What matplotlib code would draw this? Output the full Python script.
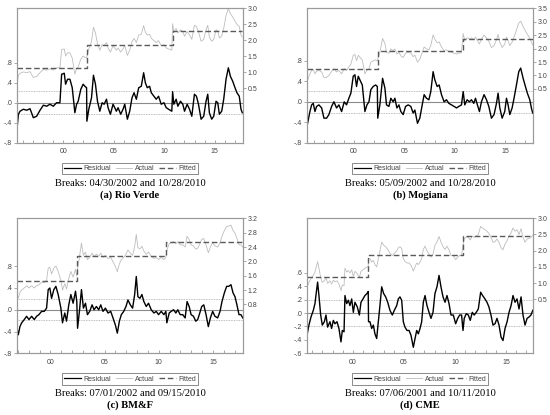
import numpy as np
import matplotlib
matplotlib.use("Agg")
import matplotlib.pyplot as plt
from matplotlib.ticker import FixedLocator, FuncFormatter, MultipleLocator

plt.rcParams["font.family"] = ["Liberation Sans", "DejaVu Sans"]

# Residual / Actual / Fitted plots for four markets

# (a) Rio Verde
rio_years = [1995.43, 1995.56, 1995.72, 1996.05, 1996.38, 1996.71, 1997.04, 1997.37, 1997.70, 1998.03,
             1998.36, 1998.68, 1999.01, 1999.34, 1999.67, 1999.84, 2000.10, 2000.23, 2000.43, 2000.66,
             2000.89, 2001.15, 2001.32, 2001.48, 2001.74, 2001.97, 2002.14, 2002.31, 2002.34, 2002.53,
             2002.80, 2002.99, 2003.19, 2003.39, 2003.62, 2003.85, 2004.05, 2004.28, 2004.44, 2004.67,
             2004.93, 2005.10, 2005.26, 2005.43, 2005.69, 2005.92, 2006.09, 2006.35, 2006.58, 2006.81,
             2007.01, 2007.24, 2007.47, 2007.73, 2007.96, 2008.13, 2008.32, 2008.55, 2008.72, 2008.98,
             2009.21, 2009.44, 2009.70, 2009.97, 2010.20, 2010.43, 2010.75, 2010.83, 2010.95, 2011.18,
             2011.35, 2011.61, 2011.84, 2012.01, 2012.27, 2012.50, 2012.73, 2012.99, 2013.19, 2013.39,
             2013.65, 2013.91, 2014.14, 2014.31, 2014.47, 2014.70, 2014.90, 2015.13, 2015.30, 2015.46,
             2015.69, 2015.89, 2016.12, 2016.35, 2016.55, 2016.78, 2017.01, 2017.20, 2017.43, 2017.60,
             2017.73]
rio_resid = [-0.50, -0.23, -0.17, -0.13, -0.15, -0.12, -0.30, -0.27, -0.15, -0.05,
             -0.07, -0.03, -0.07, 0.00, 0.00, 0.57, 0.59, 0.37, 0.47, 0.47,
             0.30, -0.20, -0.03, 0.03, 0.27, 0.37, 0.33, 0.30, -0.37, -0.13,
             0.10, 0.55, 0.37, 0.03, -0.17, 0.00, -0.03, 0.07, -0.10, -0.23,
             -0.03, -0.10, -0.17, -0.10, -0.23, -0.13, -0.03, -0.33, -0.17, 0.10,
             0.20, 0.07, 0.30, 0.33, 0.60, 0.40, 0.30, 0.33, 0.20, 0.13,
             0.07, 0.13, -0.03, 0.00, -0.10, -0.13, -0.17, 0.22, -0.03, 0.07,
             -0.07, 0.03, -0.03, -0.17, -0.03, -0.13, -0.27, 0.17, 0.13, -0.03,
             -0.33, -0.27, 0.03, 0.17, -0.20, -0.33, -0.27, 0.03, 0.00, -0.23,
             -0.17, 0.07, 0.47, 0.70, 0.53, 0.43, 0.30, 0.20, 0.13, -0.13,
             -0.20]
rio_levels = [1.14, 1.86, 2.30]
rio_breaks = [2002.33, 2010.82]
rio_band = 0.23

# (b) Mogiana
mog_years = [1995.35, 1995.48, 1995.64, 1995.81, 1995.97, 1996.14, 1996.30, 1996.53, 1996.80, 1997.03,
             1997.29, 1997.52, 1997.79, 1998.02, 1998.28, 1998.51, 1998.78, 1999.04, 1999.27, 1999.50,
             1999.70, 1999.93, 2000.10, 2000.26, 2000.43, 2000.66, 2000.83, 2001.09, 2001.29, 2001.49,
             2001.68, 2001.91, 2002.15, 2002.32, 2002.36, 2002.57, 2002.84, 2003.07, 2003.23, 2003.47,
             2003.66, 2003.89, 2004.06, 2004.26, 2004.46, 2004.65, 2004.88, 2005.12, 2005.38, 2005.64,
             2005.87, 2006.04, 2006.30, 2006.53, 2006.77, 2006.96, 2007.19, 2007.43, 2007.62, 2007.85,
             2008.02, 2008.25, 2008.45, 2008.68, 2008.94, 2009.17, 2009.41, 2009.67, 2009.93, 2010.17,
             2010.40, 2010.66, 2010.83, 2010.99, 2011.22, 2011.45, 2011.65, 2011.88, 2012.05, 2012.24,
             2012.44, 2012.64, 2012.90, 2013.14, 2013.37, 2013.63, 2013.89, 2014.13, 2014.29, 2014.46,
             2014.69, 2014.95, 2015.12, 2015.28, 2015.45, 2015.68, 2015.87, 2016.11, 2016.34, 2016.53,
             2016.77, 2017.00, 2017.19, 2017.43, 2017.59, 2017.72]
mog_resid = [-0.48, -0.35, -0.19, -0.06, -0.03, -0.19, -0.09, -0.06, -0.12, -0.32,
             -0.32, -0.25, -0.09, 0.00, -0.12, -0.06, -0.19, 0.00, -0.06, 0.07,
             0.17, 0.50, 0.53, 0.30, 0.50, 0.40, 0.33, -0.19, -0.06, 0.00,
             0.24, 0.30, 0.33, 0.30, -0.32, -0.06, 0.46, 0.27, -0.06, -0.09,
             0.07, 0.00, 0.07, -0.12, -0.06, -0.19, -0.25, -0.09, -0.06, -0.09,
             -0.22, -0.16, -0.42, -0.32, -0.06, 0.14, 0.07, 0.04, 0.20, 0.59,
             0.43, 0.30, 0.33, 0.14, 0.00, 0.04, -0.03, -0.06, -0.09, -0.12,
             -0.09, -0.06, 0.20, -0.06, 0.04, 0.00, 0.04, -0.03, 0.07, -0.06,
             -0.19, 0.00, 0.14, 0.04, -0.09, -0.32, -0.25, -0.03, 0.17, -0.12,
             -0.32, -0.19, 0.07, -0.06, -0.25, -0.12, 0.07, 0.33, 0.59, 0.66,
             0.46, 0.30, 0.17, 0.04, -0.12, -0.22]
mog_levels = [1.25, 1.92, 2.36]
mog_breaks = [2002.35, 2010.82]
mog_band = 0.22

# (c) BM&F
bmf_years = [1996.95, 1997.04, 1997.19, 1997.35, 1997.59, 1997.81, 1998.02, 1998.27, 1998.51, 1998.73,
             1998.94, 1999.19, 1999.43, 1999.65, 1999.80, 1999.95, 2000.11, 2000.32, 2000.51, 2000.72,
             2000.97, 2001.12, 2001.33, 2001.49, 2001.70, 2001.89, 2002.10, 2002.32, 2002.44, 2002.51,
             2002.68, 2002.87, 2003.05, 2003.24, 2003.42, 2003.63, 2003.85, 2004.03, 2004.25, 2004.46,
             2004.65, 2004.86, 2005.08, 2005.32, 2005.57, 2005.78, 2006.00, 2006.18, 2006.37, 2006.55,
             2006.77, 2006.98, 2007.16, 2007.38, 2007.59, 2007.78, 2007.93, 2008.08, 2008.27, 2008.45,
             2008.63, 2008.85, 2009.06, 2009.31, 2009.56, 2009.77, 2009.99, 2010.23, 2010.48, 2010.66,
             2010.75, 2010.97, 2011.15, 2011.37, 2011.58, 2011.76, 2011.98, 2012.22, 2012.44, 2012.62,
             2012.81, 2012.99, 2013.21, 2013.42, 2013.60, 2013.79, 2013.97, 2014.16, 2014.37, 2014.58,
             2014.77, 2014.98, 2015.19, 2015.44, 2015.66, 2015.84, 2016.06, 2016.27, 2016.46, 2016.67,
             2016.86, 2017.04, 2017.22, 2017.41, 2017.59, 2017.76]
bmf_resid = [-0.37, -0.46, -0.31, -0.24, -0.18, -0.12, -0.18, -0.12, -0.18, -0.12,
             -0.09, -0.03, -0.03, 0.03, 0.37, 0.40, 0.21, 0.37, 0.43, 0.28,
             0.03, -0.24, -0.06, -0.21, 0.09, 0.28, 0.12, 0.34, 0.15, -0.34,
             -0.03, 0.37, 0.03, 0.12, -0.09, -0.03, 0.09, 0.00, 0.06, 0.00,
             0.09, -0.03, 0.03, -0.06, -0.03, -0.15, -0.28, -0.43, -0.21, -0.09,
             -0.03, 0.06, 0.18, 0.09, 0.03, 0.28, 0.61, 0.24, 0.21, 0.28,
             0.15, 0.06, 0.12, 0.00, -0.06, -0.03, -0.09, -0.03, -0.09, -0.03,
             -0.24, -0.06, -0.03, 0.00, -0.06, 0.00, -0.09, -0.09, -0.15, 0.15,
             0.06, -0.09, -0.12, -0.21, -0.18, -0.06, 0.06, 0.09, -0.09, -0.31,
             -0.15, -0.03, -0.12, -0.15, -0.03, 0.15, 0.31, 0.43, 0.43, 0.46,
             0.31, 0.24, 0.09, -0.09, -0.09, -0.15]
bmf_levels = [1.44, 2.14, 2.55]
bmf_breaks = [2002.50, 2010.70]
bmf_band = 0.19

# (d) CME
cme_years = [1995.50, 1995.69, 1995.89, 1996.12, 1996.28, 1996.44, 1996.54, 1996.67, 1996.84, 1997.00,
             1997.20, 1997.36, 1997.52, 1997.75, 1997.91, 1998.08, 1998.24, 1998.44, 1998.63, 1998.83,
             1998.96, 1999.13, 1999.22, 1999.39, 1999.55, 1999.71, 1999.88, 2000.04, 2000.20, 2000.43,
             2000.63, 2000.79, 2000.99, 2001.18, 2001.38, 2001.50, 2001.53, 2001.67, 2001.84, 2002.00,
             2002.16, 2002.33, 2002.49, 2002.65, 2002.82, 2003.01, 2003.21, 2003.41, 2003.63, 2003.86,
             2004.06, 2004.29, 2004.45, 2004.61, 2004.78, 2004.94, 2005.10, 2005.30, 2005.50, 2005.69,
             2005.92, 2006.09, 2006.25, 2006.41, 2006.58, 2006.74, 2006.90, 2007.07, 2007.26, 2007.46,
             2007.65, 2007.85, 2008.04, 2008.24, 2008.44, 2008.63, 2008.83, 2009.03, 2009.22, 2009.42,
             2009.61, 2009.84, 2010.07, 2010.27, 2010.46, 2010.65, 2010.79, 2010.91, 2011.11, 2011.31,
             2011.50, 2011.70, 2011.89, 2012.09, 2012.29, 2012.52, 2012.71, 2012.94, 2013.14, 2013.33,
             2013.53, 2013.73, 2013.93, 2014.12, 2014.32, 2014.52, 2014.71, 2014.91, 2015.11, 2015.30,
             2015.50, 2015.69, 2015.89, 2016.08, 2016.28, 2016.48, 2016.67, 2016.87, 2017.07, 2017.26,
             2017.45, 2017.63]
cme_resid = [-0.33, -0.18, -0.06, 0.04, 0.14, 0.34, 0.46, 0.26, -0.03, -0.18,
             -0.13, -0.03, -0.21, -0.13, -0.23, -0.11, -0.16, -0.13, -0.23, -0.43,
             -0.26, -0.28, 0.26, 0.14, 0.19, 0.11, 0.21, 0.01, 0.16, 0.09,
             -0.03, 0.16, 0.21, 0.26, 0.29, 0.32, -0.13, -0.13, -0.23, -0.18,
             -0.31, -0.38, -0.13, 0.11, 0.39, 0.29, 0.24, 0.16, 0.04, -0.03,
             0.04, 0.11, 0.21, 0.24, 0.19, -0.13, -0.21, -0.26, -0.26, -0.33,
             -0.51, -0.38, -0.26, -0.31, -0.23, -0.13, 0.16, 0.26, 0.11, 0.01,
             -0.08, 0.01, 0.29, 0.39, 0.56, 0.39, 0.24, 0.16, 0.26, 0.14,
             -0.03, -0.03, -0.16, -0.08, -0.03, -0.03, -0.26, -0.08, -0.01, -0.03,
             -0.11, 0.01, -0.03, 0.01, 0.06, 0.31, 0.26, 0.21, 0.16, 0.09,
             -0.03, -0.18, -0.16, -0.08, -0.18, -0.36, -0.41, -0.23, -0.13, 0.01,
             0.11, 0.26, 0.16, 0.21, 0.06, 0.24, -0.03, -0.18, -0.08, -0.06,
             -0.03, 0.04]
cme_levels = [1.20, 1.88, 2.44]
cme_breaks = [2001.51, 2010.78]
cme_band = 0.20

captions = ["Breaks: 04/30/2002 and 10/28/2010", "Breaks: 05/09/2002 and 10/28/2010",
            "Breaks: 07/01/2002 and 09/15/2010", "Breaks: 07/06/2001 and 10/11/2010"]
titles = ["(a) Rio Verde", "(b) Mogiana", "(c) BM&F", "(d) CME"]

panels = [
    (rio_years, rio_resid, rio_levels, rio_breaks, rio_band),
    (mog_years, mog_resid, mog_levels, mog_breaks, mog_band),
    (bmf_years, bmf_resid, bmf_levels, bmf_breaks, bmf_band),
    (cme_years, cme_resid, cme_levels, cme_breaks, cme_band),
]

# layout (pixels in a 550x415 figure): left, top, right, bottom of each plot box
W, H = 550.0, 415.0
boxes = [(17, 8.3, 243, 142.7), (307, 8.3, 533, 142.7),
         (17, 218.3, 243, 353.3), (307, 218.3, 533, 353.3)]
xlims = [(1995.42, 2017.80), (1995.35, 2017.75), (1996.92, 2017.78), (1995.50, 2017.65)]
left_lims = [(-0.8, 1.89), (-0.8, 1.83), (-0.8, 1.68), (-0.6, 1.41)]
right_lims = [(-1.2, 3.0), (-1.5, 3.5), (-0.56, 3.2), (-1.17, 3.0)]
left_ticks = [[-0.8, -0.4, 0, 0.4, 0.8]] * 3 + [[-0.6, -0.4, -0.2, 0, 0.2, 0.4, 0.6]]
right_ticks = [[0.5, 1.0, 1.5, 2.0, 2.5, 3.0], [0.5, 1.0, 1.5, 2.0, 2.5, 3.0, 3.5],
               [0.8, 1.2, 1.6, 2.0, 2.4, 2.8, 3.2], [0.5, 1.0, 1.5, 2.0, 2.5, 3.0]]
legend_y = [168.5, 168.5, 379, 379]
caption_y = [(183, 195), (183, 195), (393.5, 405), (393.5, 405)]

frame_col = "#9a9a9a"
tick_col = "#444444"
tfs = 5.0


def eviews_fmt(v, pos):
    s = "%.1f" % v
    return s.replace("0.", ".", 1)


fig = plt.figure(figsize=(5.5, 4.15), dpi=100)

for i, (years, resid, levels, breaks, band) in enumerate(panels):
    l, t, r, b = boxes[i]
    ax = fig.add_axes([l / W, 1 - b / H, (r - l) / W, (b - t) / H])
    ax2 = ax.twinx()

    years = np.array(years)
    resid = np.array(resid)
    fit_at = np.select([years < breaks[0], years < breaks[1]], [levels[0], levels[1]], levels[2])
    actual = fit_at + resid

    # right axis: actual and fitted
    ax2.plot(years, actual, color="#bdbdbd", lw=0.6)
    ax2.plot([years[0], breaks[0], breaks[1], years[-1]], levels + [levels[-1]],
             drawstyle="steps-post", color="#5a5a5a", lw=1.0, dashes=(4, 2))

    # left axis: residual with reference lines
    ax.axhline(0, color="#8a8a8a", lw=0.8)
    ax.axhline(band, color="#a8a8a8", lw=0.6, ls=(0, (1, 1)))
    ax.axhline(-band, color="#a8a8a8", lw=0.6, ls=(0, (1, 1)))
    ax.plot(years, resid, color="black", lw=1.0)

    ax.set_xlim(*xlims[i])
    ax.set_ylim(*left_lims[i])
    ax2.set_ylim(*right_lims[i])

    ax.yaxis.set_major_locator(FixedLocator(left_ticks[i]))
    ax.yaxis.set_major_formatter(FuncFormatter(eviews_fmt))
    ax2.yaxis.set_major_locator(FixedLocator(right_ticks[i]))
    ax2.yaxis.set_major_formatter(FuncFormatter(lambda v, p: "%.1f" % v))

    ax.xaxis.set_major_locator(FixedLocator([2000, 2005, 2010, 2015]))
    ax.xaxis.set_major_formatter(FuncFormatter(lambda v, p: "%02d" % (int(round(v)) % 100)))
    ax.xaxis.set_minor_locator(MultipleLocator(1))

    for a in (ax, ax2):
        for s in a.spines.values():
            s.set_color(frame_col)
            s.set_linewidth(0.8)
    ax.tick_params(axis="y", direction="out", length=2.5, width=0.6, color=frame_col,
                   labelsize=tfs, labelcolor=tick_col, pad=1)
    ax2.tick_params(axis="y", direction="out", length=2.5, width=0.6, color=frame_col,
                    labelsize=tfs, labelcolor=tick_col, pad=1)
    ax.tick_params(axis="x", which="both", direction="in", length=2.5, width=0.6, color=frame_col,
                   labelsize=tfs, labelcolor=tick_col, pad=4)

    h_res, = ax.plot([], [], color="black", lw=0.9)
    h_act, = ax.plot([], [], color="#bdbdbd", lw=0.6)
    h_fit, = ax.plot([], [], color="#5a5a5a", lw=1.0, dashes=(4, 2))
    cx = (l + r) / 2 / W
    leg = fig.legend([h_res, h_act, h_fit], ["Residual", "Actual", "Fitted"], loc="center",
                     bbox_to_anchor=(cx, 1 - legend_y[i] / H), ncol=3, fontsize=5.0,
                     frameon=True, fancybox=False, handlelength=2.4, handletextpad=0.35,
                     columnspacing=0.7, borderpad=0.35)
    leg.get_frame().set_edgecolor("#555555")
    leg.get_frame().set_linewidth(0.6)
    for txt in leg.get_texts():
        txt.set_color(tick_col)

    fig.text(cx, 1 - caption_y[i][0] / H, captions[i], ha="center", va="center",
             family="Liberation Serif", fontsize=7.6)
    fig.text(cx, 1 - caption_y[i][1] / H, titles[i], ha="center", va="center",
             family="Liberation Serif", fontsize=7.6, fontweight="bold")

fig.savefig("out.png", dpi=100)
